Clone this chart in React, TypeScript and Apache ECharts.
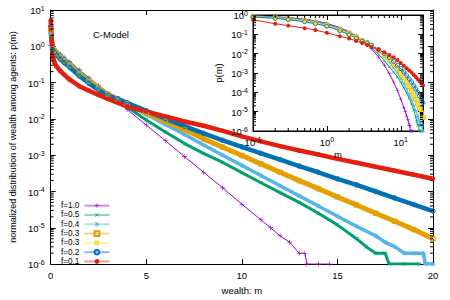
import React, { useEffect, useRef } from 'react';
import * as echarts from 'echarts';

// ---------------- data ----------------
const seriesNames = ['f=1.0', 'f=0.5', 'f=0.4', 'f=0.3', 'f=0.3 ', 'f=0.2', 'f=0.1'];

const mCommon = [0, 0.1, 0.2, 0.3, 0.5, 0.7, 1, 1.5, 2, 2.5, 3, 3.5, 4, 5, 6, 7, 8, 9, 10, 11, 12, 13, 14, 15, 16, 17, 18, 19, 20];

const mF10 = [0, 0.1, 0.2, 0.3, 0.5, 0.7, 1, 1.5, 2, 2.5, 3, 3.5, 4, 5, 6, 7, 8, 9, 10, 11, 11.5, 12, 12.5, 13, 13.3, 13.4, 14, 14.6];
const logF10 = [0.02, -0.04, -0.09, -0.13, -0.22, -0.3, -0.43, -0.65, -0.87, -1.09, -1.3, -1.52, -1.74, -2.17, -2.6, -3.04, -3.47, -3.9, -4.35, -4.78, -5.0, -5.22, -5.4, -5.7, -5.7, -6, -6, -6];

const mF05 = [0, 0.1, 0.2, 0.3, 0.5, 0.7, 1, 1.5, 2, 2.5, 3, 3.5, 4, 5, 6, 7, 8, 9, 10, 11, 12, 13, 14, 15, 16, 16.5, 17, 17.5, 17.7, 18.5, 19.3];
const logF05 = [0.25, -0.05, -0.1, -0.15, -0.24, -0.33, -0.46, -0.69, -0.9, -1.11, -1.31, -1.49, -1.67, -2.03, -2.36, -2.68, -2.95, -3.2, -3.48, -3.76, -4.03, -4.3, -4.6, -4.92, -5.3, -5.52, -5.7, -5.7, -6, -6, -6];

const mF04 = [0, 0.1, 0.2, 0.3, 0.5, 0.7, 1, 1.5, 2, 2.5, 3, 3.5, 4, 5, 6, 7, 8, 9, 10, 11, 12, 13, 14, 15, 16, 17, 17.5, 18, 18.5, 19, 19.5, 19.6, 20];
const logF04 = [0.35, -0.06, -0.12, -0.17, -0.27, -0.36, -0.49, -0.72, -0.93, -1.13, -1.32, -1.46, -1.6, -1.88, -2.15, -2.43, -2.72, -3.0, -3.28, -3.56, -3.84, -4.12, -4.4, -4.68, -4.96, -5.22, -5.4, -5.52, -5.7, -5.7, -5.7, -6, -6];

const logF03a = [0.45, -0.08, -0.14, -0.2, -0.3, -0.4, -0.53, -0.76, -0.96, -1.15, -1.33, -1.45, -1.58, -1.83, -2.07, -2.3, -2.55, -2.78, -3.01, -3.24, -3.47, -3.7, -3.92, -4.15, -4.37, -4.6, -4.82, -5.05, -5.3];
const logF03b = [0.48, -0.08, -0.15, -0.2, -0.31, -0.4, -0.54, -0.76, -0.97, -1.15, -1.33, -1.45, -1.58, -1.82, -2.06, -2.3, -2.54, -2.77, -3.0, -3.23, -3.46, -3.69, -3.92, -4.15, -4.37, -4.6, -4.83, -5.06, -5.28];
const logF02 = [0.55, -0.1, -0.17, -0.24, -0.35, -0.45, -0.58, -0.82, -1.02, -1.2, -1.36, -1.45, -1.56, -1.78, -1.99, -2.2, -2.4, -2.59, -2.77, -2.95, -3.12, -3.3, -3.47, -3.65, -3.82, -4.0, -4.18, -4.36, -4.54];
const logF01 = [0.72, -0.25, -0.45, -0.55, -0.68, -0.78, -0.92, -1.1, -1.22, -1.34, -1.45, -1.55, -1.66, -1.8, -1.93, -2.07, -2.19, -2.33, -2.48, -2.62, -2.75, -2.87, -2.98, -3.1, -3.21, -3.32, -3.43, -3.54, -3.65];

const seriesM = [mF10, mF05, mF04, mCommon, mCommon, mCommon, mCommon];
const seriesLog = [logF10, logF05, logF04, logF03a, logF03b, logF02, logF01];

// minor tick values for log axes
const decadeFactors = [2, 3, 4, 5, 6, 7, 8, 9];
const mainMinorExps = [-6, -5, -4, -3, -2, -1, 0];
const insetMinorYExps = [-6, -5, -4, -3, -2, -1];
const insetMinorXExps = [-1, 0];

// ---------------- styles ----------------
const plusPath = 'path://M0,4.4H10V5.6H0Z M4.4,0H5.6V10H4.4Z';
const starPath = 'path://M0,4.4H10V5.6H0Z M4.4,0H5.6V10H4.4Z M1.3,0.5L9.5,8.7L8.7,9.5L0.5,1.3Z M8.7,0.5L9.5,1.3L1.3,9.5L0.5,8.7Z';

const styles = [
  { color: '#9400d3', symbol: plusPath, rotate: 0, size: 5, open: false, width: 1, z: 2 },
  { color: '#009e73', symbol: plusPath, rotate: 45, size: 5, open: false, width: 3, z: 2 },
  { color: '#56b4e9', symbol: starPath, rotate: 0, size: 5, open: false, width: 3.5, z: 2 },
  { color: '#e69f00', symbol: 'rect', rotate: 0, size: 4.5, open: true, width: 5, z: 2 },
  { color: '#f0e442', symbol: 'rect', rotate: 0, size: 3, open: false, width: 2, z: 1 },
  { color: '#0072b2', symbol: 'circle', rotate: 0, size: 4.5, open: true, width: 4.5, z: 2 },
  { color: '#e51e10', symbol: 'circle', rotate: 0, size: 4.5, open: false, width: 4.5, z: 2 },
];

const FONT = 'Liberation Sans, Arial, Helvetica, sans-serif';

const pow10Label = (v: number) => {
  const e = Math.round(Math.log10(v));
  if (Math.abs(v / Math.pow(10, e) - 1) > 1e-6) return '';
  return `{b|10}{s|${e}}`;
};
const powRich = {
  b: { fontSize: 9.5, fontFamily: FONT, color: '#000', padding: [3, 0, 0, 0], lineHeight: 11, verticalAlign: 'bottom' },
  s: { fontSize: 7, fontFamily: FONT, color: '#000', lineHeight: 7, verticalAlign: 'top' },
};

export default function App() {
  const ref = useRef<HTMLDivElement>(null);

  useEffect(() => {
    if (!ref.current) return;
    const chart = echarts.init(ref.current, undefined, { renderer: 'svg' });

    const mainMinorY: number[][] = [];
    mainMinorExps.forEach((e) => decadeFactors.forEach((k) => mainMinorY.push([0, k * Math.pow(10, e)])));
    const insetMinorY: number[][] = [];
    insetMinorYExps.forEach((e) => decadeFactors.forEach((k) => insetMinorY.push([0.1, k * Math.pow(10, e)])));
    const insetMinorX: number[][] = [];
    insetMinorXExps.forEach((e) => decadeFactors.forEach((k) => insetMinorX.push([k * Math.pow(10, e), 1])));

    const seriesData = seriesM.map((ms, i) => ms.map((m, j) => [m, Math.pow(10, seriesLog[i][j])]));

    const mainSeries = seriesNames.map((name, i) => {
      const st = styles[i];
      return {
        name,
        type: 'line',
        xAxisIndex: 0,
        yAxisIndex: 0,
        data: seriesData[i],
        symbol: st.symbol,
        symbolRotate: st.rotate,
        symbolSize: st.size,
        showSymbol: true,
        lineStyle: { color: st.color, width: st.width },
        itemStyle: {
          color: st.open ? 'rgba(255,255,255,0)' : st.color,
          borderColor: st.color,
          borderWidth: st.open ? 1 : 0,
        },
        z: st.z,
        silent: true,
      };
    });

    const insetSeries = seriesNames.map((name, i) => {
      const st = styles[i];
      return {
        name,
        type: 'line',
        xAxisIndex: 2,
        yAxisIndex: 2,
        data: seriesData[i].filter((d) => d[0] > 0),
        symbol: st.symbol,
        symbolRotate: st.rotate,
        symbolSize: 4,
        showSymbol: true,
        lineStyle: { color: st.color, width: 1 },
        itemStyle: {
          color: st.open ? 'rgba(255,255,255,0)' : st.color,
          borderColor: st.color,
          borderWidth: st.open ? 1 : 0,
        },
        z: 12,
        silent: true,
      };
    });

    const tickLine = (x1: number, y1: number, x2: number, y2: number) => ({
      type: 'line',
      shape: { x1, y1, x2, y2 },
      style: { stroke: '#000', lineWidth: 1 },
    });

    const minorSeries = [
      {
        type: 'custom',
        xAxisIndex: 0,
        yAxisIndex: 0,
        data: mainMinorY,
        z: 3,
        silent: true,
        renderItem: (_p: any, api: any) => {
          const v = api.value(1);
          const l = api.coord([0, v]);
          const r = api.coord([20, v]);
          return {
            type: 'group',
            children: [tickLine(l[0], l[1], l[0] + 3, l[1]), tickLine(r[0] - 3, r[1], r[0], r[1])],
          };
        },
      },
      {
        type: 'custom',
        xAxisIndex: 2,
        yAxisIndex: 2,
        data: insetMinorY,
        z: 13,
        silent: true,
        renderItem: (_p: any, api: any) => {
          const v = api.value(1);
          const l = api.coord([0.1, v]);
          const r = api.coord([20, v]);
          return {
            type: 'group',
            children: [tickLine(l[0], l[1], l[0] + 3, l[1]), tickLine(r[0] - 3, r[1], r[0], r[1])],
          };
        },
      },
      {
        type: 'custom',
        xAxisIndex: 2,
        yAxisIndex: 2,
        data: insetMinorX,
        z: 13,
        silent: true,
        renderItem: (_p: any, api: any) => {
          const v = api.value(0);
          const t = api.coord([v, 1]);
          const b = api.coord([v, 1e-6]);
          return {
            type: 'group',
            children: [tickLine(b[0], b[1], b[0], b[1] - 3), tickLine(t[0], t[1], t[0], t[1] + 3)],
          };
        },
      },
    ];

    const axisLine = { show: true, onZero: false, lineStyle: { color: '#000', width: 1 } };
    const tickIn = { show: true, inside: true, length: 5, lineStyle: { color: '#000' } };

    const option: any = {
      animation: false,
      textStyle: { fontFamily: FONT },
      title: {
        text: 'C-Model',
        left: 88,
        top: 24,
        textStyle: { fontSize: 9.5, fontWeight: 'normal', color: '#000', fontFamily: FONT },
      },
      legend: {
        data: seriesNames,
        formatter: (n: string) => n.trim(),
        orient: 'vertical',
        left: 61,
        top: 201,
        align: 'right',
        itemWidth: 25,
        itemHeight: 6,
        itemGap: 0,
        padding: 0,
        textStyle: { fontSize: 8.2, lineHeight: 9.3, color: '#000', fontFamily: FONT },
        lineStyle: { width: 2, opacity: 0.45 },
        selectedMode: false,
      },
      grid: [
        { left: 47, right: 17, top: 10, bottom: 31, show: false },
        {
          left: 253,
          top: 15,
          width: 170,
          height: 116,
          show: true,
          backgroundColor: '#fff',
          borderColor: '#000',
          borderWidth: 1,
          z: 10,
        },
      ],
      xAxis: [
        {
          gridIndex: 0,
          type: 'value',
          min: 0,
          max: 20,
          interval: 5,
          position: 'bottom',
          axisLine,
          axisTick: tickIn,
          splitLine: { show: false },
          axisLabel: { fontSize: 9.5, color: '#000', margin: 6, fontFamily: FONT },
          name: 'wealth: m',
          nameLocation: 'middle',
          nameGap: 19,
          nameTextStyle: { fontSize: 9.5, color: '#000', fontFamily: FONT },
        },
        {
          gridIndex: 0,
          type: 'value',
          min: 0,
          max: 20,
          interval: 5,
          position: 'top',
          axisLine,
          axisTick: tickIn,
          splitLine: { show: false },
          axisLabel: { show: false },
        },
        {
          gridIndex: 1,
          type: 'log',
          logBase: 10,
          min: 0.1,
          max: 20,
          position: 'bottom',
          axisLine,
          axisTick: tickIn,
          splitLine: { show: false },
          axisLabel: { formatter: pow10Label, rich: powRich, margin: 5 },
          name: 'm',
          nameLocation: 'middle',
          nameGap: 18,
          nameTextStyle: { fontSize: 9.5, color: '#000', fontFamily: FONT },
          z: 11,
        },
        {
          gridIndex: 1,
          type: 'log',
          logBase: 10,
          min: 0.1,
          max: 20,
          position: 'top',
          axisLine,
          axisTick: tickIn,
          splitLine: { show: false },
          axisLabel: { show: false },
          z: 11,
        },
      ],
      yAxis: [
        {
          gridIndex: 0,
          type: 'log',
          logBase: 10,
          min: 1e-6,
          max: 10,
          position: 'left',
          axisLine,
          axisTick: tickIn,
          splitLine: { show: false },
          axisLabel: { formatter: pow10Label, rich: powRich, margin: 6 },
          name: 'normalized distribution of wealth among agents: p(m)',
          nameLocation: 'middle',
          nameGap: 31,
          nameTextStyle: { fontSize: 9, color: '#000', fontFamily: FONT },
        },
        {
          gridIndex: 0,
          type: 'log',
          logBase: 10,
          min: 1e-6,
          max: 10,
          position: 'right',
          axisLine,
          axisTick: tickIn,
          splitLine: { show: false },
          axisLabel: { show: false },
        },
        {
          gridIndex: 1,
          type: 'log',
          logBase: 10,
          min: 1e-6,
          max: 1,
          position: 'left',
          axisLine,
          axisTick: tickIn,
          splitLine: { show: false },
          axisLabel: { formatter: pow10Label, rich: powRich, margin: 5 },
          name: 'p(m)',
          nameLocation: 'middle',
          nameGap: 30,
          nameTextStyle: { fontSize: 9.5, color: '#000', fontFamily: FONT },
          z: 11,
        },
        {
          gridIndex: 1,
          type: 'log',
          logBase: 10,
          min: 1e-6,
          max: 1,
          position: 'right',
          axisLine,
          axisTick: tickIn,
          splitLine: { show: false },
          axisLabel: { show: false },
          z: 11,
        },
      ],
      series: [...mainSeries, ...insetSeries, ...minorSeries],
    };

    chart.setOption(option);
    return () => chart.dispose();
  }, []);

  return (
    <div
      ref={ref}
      style={{ position: 'absolute', left: 0, top: 0, width: 450, height: 300, background: '#fff' }}
    />
  );
}
